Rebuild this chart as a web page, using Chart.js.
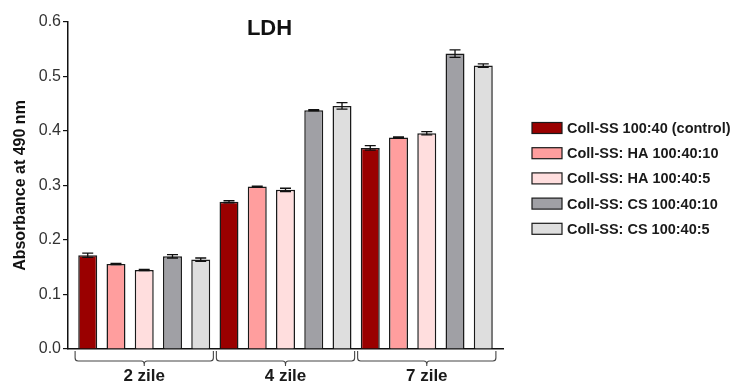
<!DOCTYPE html>
<html>
<head>
<meta charset="utf-8">
<script src="https://cdn.jsdelivr.net/npm/chart.js@4/dist/chart.umd.min.js"></script>
<style>
html,body{margin:0;padding:0;background:#fff;}
#wrap{position:relative;width:735px;height:385px;}
</style>
</head>
<body>
<div id="wrap"><canvas id="c" width="735" height="385"></canvas></div>
<script>
// ---- data ----
const categories = ['2 zile', '4 zile', '7 zile'];
const seriesNames = [
  'Coll-SS 100:40 (control)',
  'Coll-SS: HA 100:40:10',
  'Coll-SS: HA 100:40:5',
  'Coll-SS: CS 100:40:10',
  'Coll-SS: CS 100:40:5'
];
const controlVals = [0.172, 0.270, 0.369];
const ha10Vals    = [0.156, 0.298, 0.388];
const ha5Vals     = [0.145, 0.292, 0.396];
const cs10Vals    = [0.170, 0.438, 0.542];
const cs5Vals     = [0.164, 0.446, 0.520];
const controlErr = [0.004, 0.002, 0.004];
const ha10Err    = [0.001, 0.001, 0.001];
const ha5Err     = [0.001, 0.003, 0.003];
const cs10Err    = [0.003, 0.001, 0.007];
const cs5Err     = [0.003, 0.006, 0.003];
const yTicks = [0.0, 0.1, 0.2, 0.3, 0.4, 0.5, 0.6];
const chartTitle = 'LDH';
const yTitle = 'Absorbance at 490 nm';

// ---- styling ----
const colors = ['#9a0000', '#ff9e9e', '#ffdede', '#a0a0a5', '#dedede'];
const values = [controlVals, ha10Vals, ha5Vals, cs10Vals, cs5Vals];
const errors = [controlErr, ha10Err, ha5Err, cs10Err, cs5Err];

const datasets = values.map((v, i) => ({
  label: seriesNames[i],
  data: v,
  errors: errors[i],
  backgroundColor: colors[i],
  borderColor: '#1a1a1a',
  borderWidth: 1.5,
  categoryPercentage: 1.0,
  barPercentage: 0.672
}));

// inset the category positions slightly inside the axis line (bars evenly spaced across groups)
const insetPlugin = {
  id: 'inset',
  afterLayout(chart) {
    const x = chart.scales.x;
    const m = 5.6;
    x._startPixel = x.left + m;
    x._endPixel = x.right - m;
    x._length = x.right - x.left - 2 * m;
  }
};

const errorBarPlugin = {
  id: 'errorBars',
  afterDatasetsDraw(chart) {
    const ctx = chart.ctx;
    const y = chart.scales.y;
    ctx.save();
    ctx.strokeStyle = '#111';
    ctx.lineWidth = 1.3;
    chart.data.datasets.forEach((ds, di) => {
      const meta = chart.getDatasetMeta(di);
      meta.data.forEach((bar, i) => {
        const v = ds.data[i], e = ds.errors[i];
        const yt = y.getPixelForValue(v + e), yb = y.getPixelForValue(v - e);
        const x = bar.x, hw = 5.5;
        ctx.beginPath();
        ctx.moveTo(x, yt); ctx.lineTo(x, yb);
        ctx.moveTo(x - hw, yt); ctx.lineTo(x + hw, yt);
        ctx.moveTo(x - hw, yb); ctx.lineTo(x + hw, yb);
        ctx.stroke();
      });
    });
    ctx.restore();
  }
};

const decorPlugin = {
  id: 'decor',
  afterDraw(chart) {
    const ctx = chart.ctx;
    const ca = chart.chartArea;
    const xs = chart.scales.x;
    ctx.save();
    // brackets under each category
    ctx.strokeStyle = '#444';
    ctx.lineWidth = 1.1;
    const n = categories.length;
    const cw = xs.getPixelForValue(1) - xs.getPixelForValue(0);
    for (let i = 0; i < n; i++) {
      const cx = xs.getPixelForValue(i);
      const x0 = cx - cw / 2 + 1.5, x1 = cx + cw / 2 - 1.5;
      const y0 = ca.bottom + 2, y1 = ca.bottom + 12, r = 3;
      ctx.beginPath();
      ctx.moveTo(x0, y0);
      ctx.lineTo(x0, y1 - r);
      ctx.quadraticCurveTo(x0, y1, x0 + r, y1);
      ctx.lineTo(cx - r, y1);
      ctx.quadraticCurveTo(cx, y1, cx, y1 + r);
      ctx.lineTo(cx, y1 + r + 2);
      ctx.moveTo(cx, y1 + r);
      ctx.quadraticCurveTo(cx, y1, cx + r, y1);
      ctx.lineTo(x1 - r, y1);
      ctx.quadraticCurveTo(x1, y1, x1, y1 - r);
      ctx.lineTo(x1, y0);
      ctx.stroke();
    }
    // title
    ctx.fillStyle = '#111';
    ctx.font = 'bold 22px "Liberation Sans", Arial, sans-serif';
    ctx.textAlign = 'center';
    ctx.textBaseline = 'alphabetic';
    ctx.fillText(chartTitle, 269.5, 35);
    // legend
    ctx.font = 'bold 14.5px "Liberation Sans", Arial, sans-serif';
    ctx.textAlign = 'left';
    ctx.textBaseline = 'middle';
    chart.data.datasets.forEach((ds, i) => {
      const yc = 128 + i * 25.2;
      ctx.fillStyle = ds.backgroundColor;
      ctx.fillRect(532, yc - 5.5, 30, 11);
      ctx.strokeStyle = '#1a1a1a';
      ctx.lineWidth = 1.2;
      ctx.strokeRect(532, yc - 5.5, 30, 11);
      ctx.fillStyle = '#1a1a1a';
      ctx.fillText(ds.label, 567, yc + 1);
    });
    ctx.restore();
  }
};

new Chart(document.getElementById('c'), {
  type: 'bar',
  data: { labels: categories, datasets },
  options: {
    responsive: false,
    animation: false,
    layout: { padding: { top: 22, right: 232, bottom: 0, left: 0 } },
    plugins: { legend: { display: false }, tooltip: { enabled: false }, title: { display: false } },
    scales: {
      x: {
        grid: { display: false },
        border: { display: true, color: '#111', width: 1.5 },
        ticks: {
          color: '#1a1a1a',
          font: { family: '"Liberation Sans", Arial, sans-serif', size: 17, weight: 'bold' },
          padding: 9, maxRotation: 0, autoSkip: false
        },
        afterFit(s) { s.height = 36; }
      },
      y: {
        min: 0, max: 0.6,
        afterBuildTicks(s) { s.ticks = yTicks.map(v => ({ value: v })); },
        grid: { display: true, drawOnChartArea: false, drawTicks: true, tickLength: 5, color: '#111', lineWidth: 1.2 },
        border: { display: true, color: '#111', width: 1.5 },
        ticks: {
          color: '#333',
          font: { family: '"Liberation Sans", Arial, sans-serif', size: 16 },
          padding: 2,
          callback: v => Number(v).toFixed(1)
        },
        title: {
          display: true, text: yTitle, color: '#111',
          font: { family: '"Liberation Sans", Arial, sans-serif', size: 16, weight: 'bold' },
          padding: { top: 11, bottom: 0 }
        },
        afterFit(s) { s.width = 68; }
      }
    }
  },
  plugins: [insetPlugin, errorBarPlugin, decorPlugin]
});
</script>
</body>
</html>
